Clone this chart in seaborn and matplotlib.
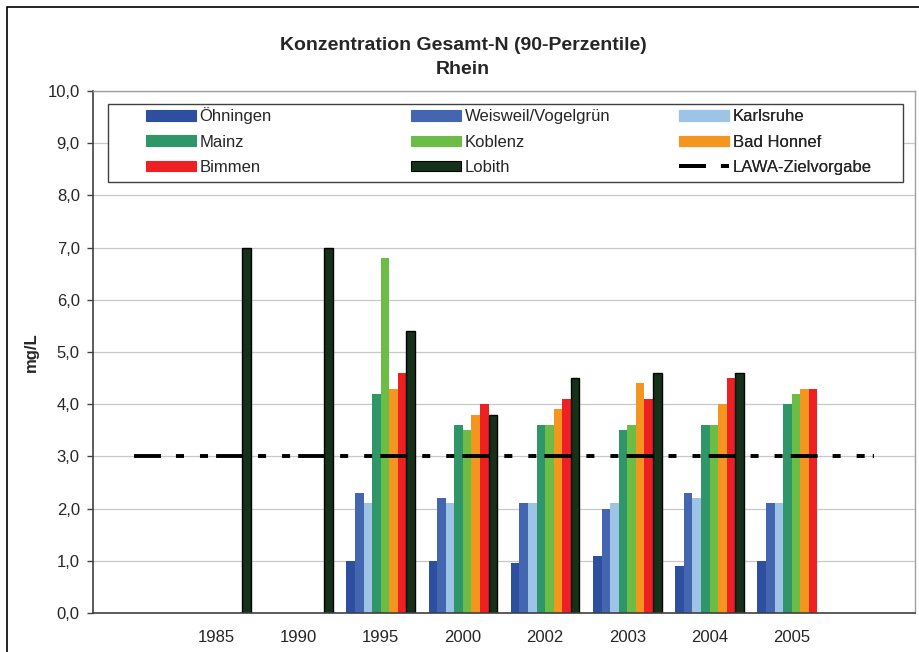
import numpy as np
import pandas as pd
import seaborn as sns
import matplotlib
matplotlib.use('Agg')
from matplotlib import pyplot as plt
from matplotlib.patches import Patch, Rectangle
from matplotlib.lines import Line2D
from matplotlib.ticker import FuncFormatter, FixedLocator

# categories on the x axis (blank slots at both ends, like the original)
categories = ['', '1985', '1990', '1995', '2000', '2002', '2003', '2004', '2005', ' ']

stations = ['Öhningen', 'Weisweil/Vogelgrün', 'Karlsruhe', 'Mainz',
            'Koblenz', 'Bad Honnef', 'Bimmen', 'Lobith']

oehningen = [None, None, None, 1.0, 1.0, 0.95, 1.1, 0.9, 1.0, None]
weisweil = [None, None, None, 2.3, 2.2, 2.1, 2.0, 2.3, 2.1, None]
karlsruhe = [None, None, None, 2.1, 2.1, 2.1, 2.1, 2.2, 2.1, None]
mainz = [None, None, None, 4.2, 3.6, 3.6, 3.5, 3.6, 4.0, None]
koblenz = [None, None, None, 6.8, 3.5, 3.6, 3.6, 3.6, 4.2, None]
bad_honnef = [None, None, None, 4.3, 3.8, 3.9, 4.4, 4.0, 4.3, None]
bimmen = [None, None, None, 4.6, 4.0, 4.1, 4.1, 4.5, 4.3, None]
lobith = [None, 7.0, 7.0, 5.4, 3.8, 4.5, 4.6, 4.6, None, None]

lawa = [3.0, 3.0, 3.0, 3.0, 3.0, 3.0, 3.0, 3.0, 3.0, 3.0]

colors = ['#2E4FA0', '#4466B0', '#9DC3E6', '#2E9668',
          '#6CBD45', '#F4951F', '#EE2024', '#16311A']

series = [oehningen, weisweil, karlsruhe, mainz, koblenz, bad_honnef, bimmen, lobith]
rows = []
for name, values in zip(stations, series):
    for cat, v in zip(categories, values):
        if v is not None:
            rows.append({'year': cat, 'station': name, 'value': v})
df = pd.DataFrame(rows)

sns.set_style('white')
plt.rcParams['font.family'] = ['Liberation Sans', 'DejaVu Sans']
plt.rcParams['lines.scale_dashes'] = False

W, H = 919, 652
fig = plt.figure(figsize=(W / 100, H / 100), dpi=100)
ax = fig.add_axes([93 / W, 1 - 613 / H, (915 - 93) / W, (613 - 91) / H])

sns.barplot(data=df, x='year', y='value', hue='station', order=categories,
            hue_order=stations, palette=dict(zip(stations, colors)),
            width=0.833, saturation=1, errorbar=None, legend=False,
            linewidth=0, ax=ax)

# Lobith bars carry a black outline
for bar in ax.containers[-1]:
    bar.set_edgecolor('black')
    bar.set_linewidth(1.0)

dash = (0, (19.4, 10.8, 5.8, 11.5, 5.8, 5.8))
ax.plot(np.arange(len(categories)), lawa, color='black', lw=2.8,
        linestyle=dash, dash_capstyle='butt', zorder=5)

ax.set_ylim(0, 10)
ax.set_xlim(-0.5, len(categories) - 0.5)
ax.set_yticks(np.arange(0, 11, 1))
ax.yaxis.set_major_formatter(FuncFormatter(lambda v, p: f'{v:.1f}'.replace('.', ',')))
ax.grid(axis='y', color='#C8C8C8', lw=0.9)
ax.set_axisbelow(True)

ax.xaxis.set_minor_locator(FixedLocator(np.arange(-0.5, len(categories), 1)))
ax.tick_params(axis='x', which='major', length=0, pad=12, labelsize=12)
ax.tick_params(axis='x', which='minor', length=4, width=1, color='#404040', direction='out')
ax.tick_params(axis='y', which='major', length=4.5, width=1, color='#404040',
               direction='out', pad=5, labelsize=12, left=True)

for side in ['left', 'bottom']:
    ax.spines[side].set_color('#404040')
    ax.spines[side].set_linewidth(1.2)
for side in ['top', 'right']:
    ax.spines[side].set_color('#A0A0A0')
    ax.spines[side].set_linewidth(1.0)

ax.set_xlabel('')
ax.set_ylabel('mg/L', fontsize=12, fontweight='bold')
ax.yaxis.set_label_coords(-0.066, 0.5)

fig.text(463 / W, 1 - 45 / H, 'Konzentration Gesamt-N (90-Perzentile)',
         ha='center', va='center', fontsize=14, fontweight='bold')
fig.text(463 / W, 1 - 70 / H, 'Rhein',
         ha='center', va='center', fontsize=14, fontweight='bold')

# legend: box plus three columns
handles = [Patch(facecolor=c, edgecolor='black' if s == 'Lobith' else c, lw=0.8)
           for s, c in zip(stations, colors)]
handles.append(Line2D([0], [0], color='black', lw=2.8, linestyle=(0, (19.4, 10.8, 5.8, 30)),
                      dash_capstyle='butt'))
labels = stations + ['LAWA-Zielvorgabe']

box_l, box_r, box_t, box_b = 108, 903, 104, 182
ax.add_patch(Rectangle(((box_l - 93) / 822, (613 - box_b) / 522),
                       (box_r - box_l) / 822, (box_b - box_t) / 522,
                       transform=ax.transAxes, facecolor='white', edgecolor='#404040',
                       lw=1.0, zorder=6))
col_x = [143, 408, 676]
col_top = [104, 106, 106]
for k, x0 in enumerate(col_x):
    idx = [k, k + 3, k + 6]
    leg = ax.legend([handles[i] for i in idx], [labels[i] for i in idx],
                    loc='upper left', bbox_to_anchor=((x0 - 93) / 822, (613 - col_top[k]) / 522),
                    frameon=False, fontsize=12, handlelength=2.95, handleheight=0.6,
                    handletextpad=0.25, labelspacing=0.62, borderpad=0.2, borderaxespad=0)
    leg.set_zorder(7)
    ax.add_artist(leg)

# outer chart border (left and top visible, rest cropped)
fig.patches.append(Rectangle((7 / W, -0.1), 1.2, 1.1 - 7 / H, transform=fig.transFigure,
                             fill=False, edgecolor='black', lw=1.2))

fig.savefig('out.png', dpi=100)
